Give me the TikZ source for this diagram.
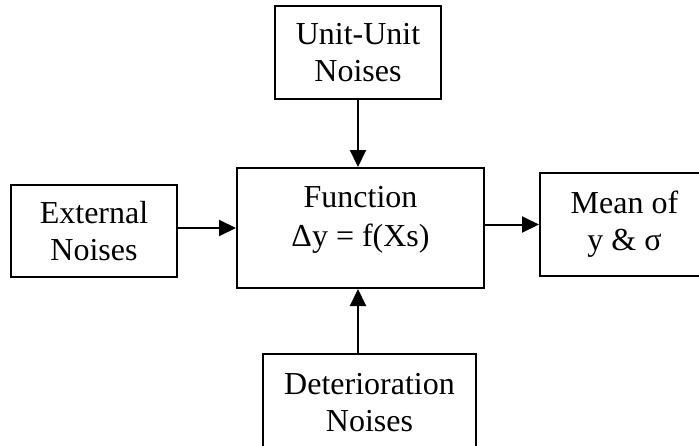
\documentclass[tikz,border=0pt]{standalone}
\usepackage{fontspec}
\setmainfont{Liberation Serif}
\usetikzlibrary{arrows.meta}
\begin{document}
\begin{tikzpicture}[x=1pt,y=-1pt,
  box/.style={draw, line width=2pt, align=center, inner sep=0pt,
    font=\fontsize{32}{37}\selectfont},
  arr/.style={line width=2pt, -{Triangle[length=17pt,width=16pt]}}]
\useasboundingbox (0,0) rectangle (699,445);
\node[box, minimum width=166pt, minimum height=93pt] (unit) at (358,52.5) {Unit-Unit\\Noises};
\node[box, minimum width=247pt, minimum height=120pt] (func) at (360.5,228) {Function\\[2pt]Δy = f(Xs)\\[-14pt]};
\node[box, minimum width=166pt, minimum height=92pt] (ext) at (94,231) {External\\Noises};
\node[box, minimum width=169pt, minimum height=103pt] (mean) at (624.5,224.5) {Mean of\\y \& σ};
\node[box, minimum width=213pt, minimum height=98pt] (det) at (369.5,403) {Deterioration\\Noises};
\draw[arr] (unit.south) -- (unit.south |- func.north);
\draw[arr] (ext.east |- func.west) -- (func.west);
\draw[arr] (func.east |- mean.west) -- (mean.west);
\draw[arr] (det.north -| unit.south) -- (unit.south |- func.south);
\end{tikzpicture}
\end{document}
